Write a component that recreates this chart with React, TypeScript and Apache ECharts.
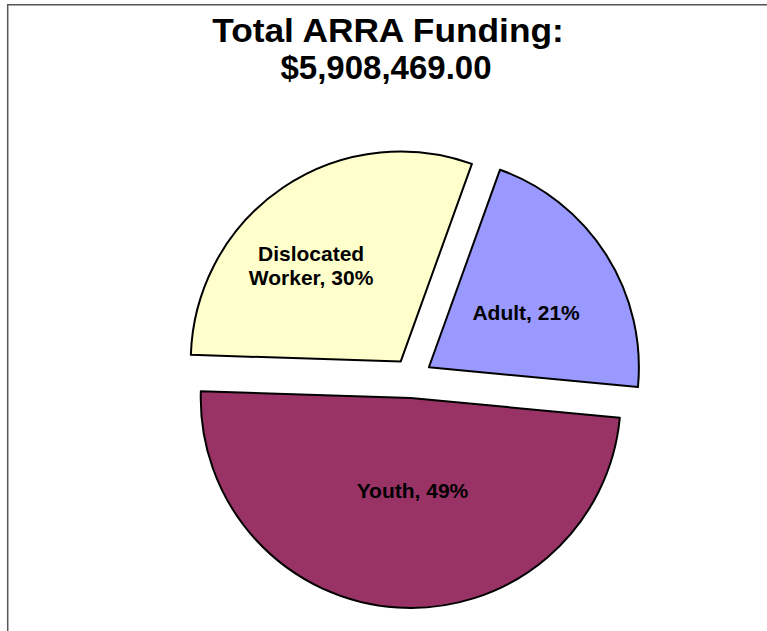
import React, { useEffect, useRef } from "react";
import * as echarts from "echarts";

const titleLines = ["Total ARRA Funding:", "$5,908,469.00"];
const categories = ["Adult", "Youth", "Dislocated Worker"];
const labelNames = ["Adult", "Youth", "Dislocated\nWorker"];
const shares = [21, 49, 30];
const colors = ["#9999FF", "#993366", "#FFFFCC"];
const labelShift = [
  [6, 3],
  [8.5, -15.5],
  [-29, -7],
];

export default function App() {
  const ref = useRef<HTMLDivElement>(null);
  useEffect(() => {
    if (!ref.current) return;
    const chart = echarts.init(ref.current, null, { renderer: "svg" });
    const font = "'Liberation Sans', Arial, sans-serif";
    const titleStyle = {
      fontFamily: font,
      fontWeight: "bold",
      fontSize: 33,
      lineHeight: 37,
      textAlign: "center",
      verticalAlign: "top",
      fill: "#000000",
    };
    chart.setOption({
      animation: false,
      backgroundColor: "#ffffff",
      graphic: [
        {
          type: "rect",
          shape: { x: 7.7, y: 4.7, width: 900, height: 800 },
          style: { fill: "none", stroke: "#555555", lineWidth: 1.5 },
          silent: true,
        },
        {
          type: "text",
          x: 388,
          y: 12,
          scaleX: 1.07,
          style: { ...titleStyle, text: titleLines[0] },
          silent: true,
        },
        {
          type: "text",
          x: 386,
          y: 49,
          style: { ...titleStyle, text: titleLines[1] },
          silent: true,
        },
      ],
      series: [
        {
          type: "pie",
          center: [412, 378],
          radius: [0, 210],
          startAngle: 70.2,
          clockwise: true,
          selectedMode: "multiple",
          selectedOffset: 20,
          avoidLabelOverlap: false,
          silent: true,
          emphasis: { disabled: true },
          itemStyle: { borderColor: "#000000", borderWidth: 2 },
          select: {
            itemStyle: { borderColor: "#000000", borderWidth: 2 },
          },
          label: {
            show: true,
            position: "inner",
            color: "#000000",
            fontFamily: font,
            fontWeight: "bold",
            fontSize: 21,
            lineHeight: 24,
            formatter: (p: any) =>
              `${labelNames[p.dataIndex]}, ${Math.round(p.percent)}%`,
          },
          labelLine: { show: false },
          labelLayout: (p: any) => ({
            dx: labelShift[p.dataIndex][0],
            dy: labelShift[p.dataIndex][1],
          }),
          data: categories.map((name, i) => ({
            name,
            value: shares[i],
            selected: true,
            itemStyle: { color: colors[i] },
            select: { itemStyle: { color: colors[i] } },
          })),
        },
      ],
    });
    return () => chart.dispose();
  }, []);
  return (
    <div
      ref={ref}
      style={{ position: "absolute", left: 0, top: 0, width: 767, height: 631 }}
    />
  );
}
